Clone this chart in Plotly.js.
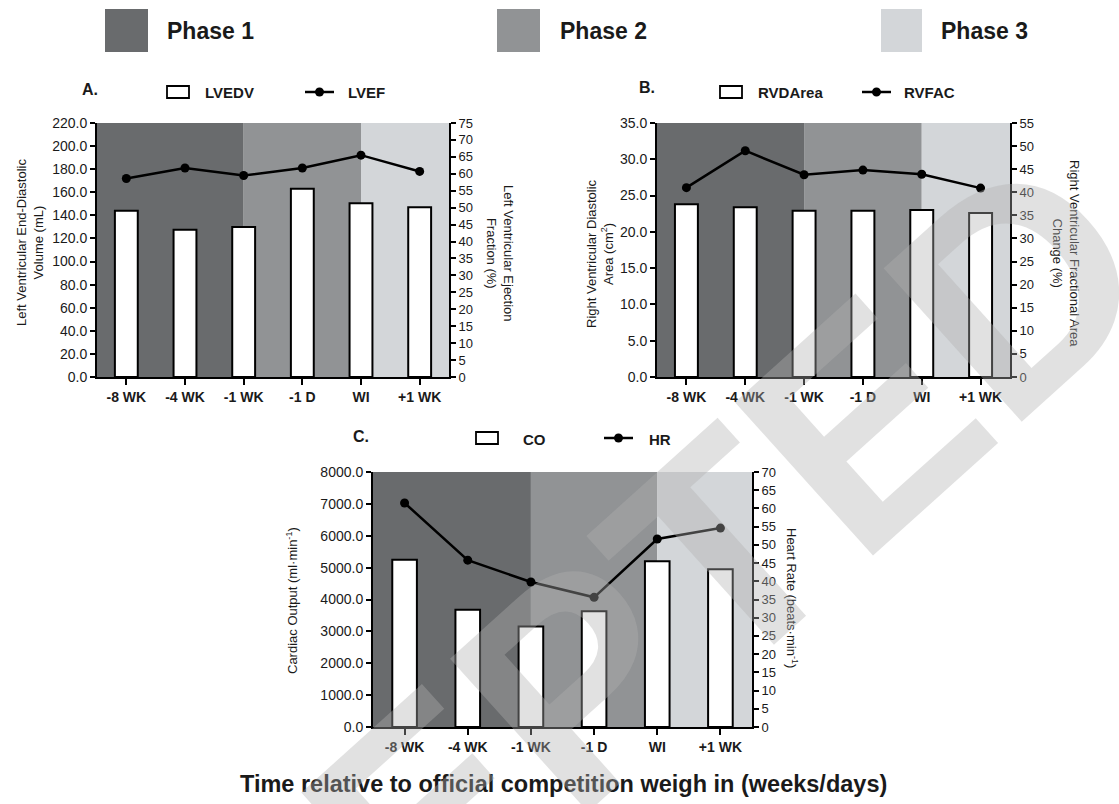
<!DOCTYPE html>
<html>
<head>
<meta charset="utf-8">
<script src="https://cdn.plot.ly/plotly-3.0.1.min.js"></script>
<style>html,body{margin:0;padding:0;background:#fff;}#chart{width:1119px;height:804px;}</style>
</head>
<body>
<div id="chart"></div>
<script>
// ---- data ----
const categories = ['-8 WK', '-4 WK', '-1 WK', '-1 D', 'WI', '+1 WK'];
const lvedv = [144, 127.5, 130, 163, 150.5, 147];
const lvef = [58.6, 61.7, 59.5, 61.7, 65.5, 60.7];
const rvdArea = [23.8, 23.4, 22.9, 22.9, 23.0, 22.6];
const rvfac = [41.0, 49.0, 43.8, 44.8, 43.9, 40.9];
const co = [5250, 3680, 3150, 3630, 5200, 4950];
const hr = [61.5, 45.8, 39.8, 35.6, 51.6, 54.6];
const phaseNames = ['Phase 1', 'Phase 2', 'Phase 3'];
const phaseBounds = [[-0.5, 2], [2, 4], [4, 5.5]];
const phaseColors = ['#696b6d', '#919395', '#d3d6d9'];

// ---- helpers ----
const W = 1119, H = 804;
const px = x => x / W;
const py = y => 1 - y / H;
const FONT = 'Liberation Sans, Arial, sans-serif';
const INK = '#1a1a1a';

function barTrace(y, xa, ya) {
  return {type: 'bar', x: categories, y: y, xaxis: xa, yaxis: ya, width: 0.39,
    marker: {color: '#ffffff', line: {color: '#000', width: 2}}, hoverinfo: 'none'};
}
function lineTrace(y, xa, ya) {
  return {type: 'scatter', mode: 'lines+markers', x: categories, y: y, xaxis: xa, yaxis: ya,
    line: {color: '#000', width: 2.5}, marker: {color: '#000', size: 9}, hoverinfo: 'none'};
}
const traces = [
  barTrace(lvedv, 'x', 'y'), lineTrace(lvef, 'x', 'y2'),
  barTrace(rvdArea, 'x2', 'y3'), lineTrace(rvfac, 'x2', 'y4'),
  barTrace(co, 'x3', 'y5'), lineTrace(hr, 'x3', 'y6')
];

function xAxis(domain, anchor) {
  return {domain: domain, anchor: anchor, type: 'category', categoryarray: categories,
    range: [-0.5, 5.5], showline: true, linecolor: '#000', linewidth: 2, ticks: 'outside',
    ticklen: 6, tickwidth: 2, tickcolor: '#000', showgrid: false, zeroline: false,
    tickfont: {family: FONT, size: 14, color: INK, weight: 'bold'}, fixedrange: true};
}
function yLeft(domain, anchor, max, dtick) {
  return {domain: domain, anchor: anchor, range: [0, max], dtick: dtick, tick0: 0, tickformat: '.1f',
    showline: true, linecolor: '#000', linewidth: 2, ticks: 'outside', ticklen: 5, tickwidth: 2,
    tickcolor: '#000', showgrid: false, zeroline: false,
    tickfont: {family: FONT, size: 14, color: INK}, fixedrange: true};
}
function yRight(overlay, anchor, domain, max) {
  return {overlaying: overlay, side: 'right', anchor: anchor, domain: domain, range: [0, max], dtick: 5, tick0: 0,
    showline: true, linecolor: '#000', linewidth: 2, ticks: 'outside', ticklen: 5, tickwidth: 2,
    tickcolor: '#000', showgrid: false, zeroline: false,
    tickfont: {family: FONT, size: 13, color: INK}, fixedrange: true};
}

const domA = [px(97), px(449)], domB = [px(657), px(1010)], domC = [px(373), px(752)];
const yTop = [py(377), py(123)], yBot = [py(727), py(472)];

const shapes = [];
// phase shading
[['x', 'y'], ['x2', 'y3'], ['x3', 'y5']].forEach(([xa, ya]) => {
  phaseBounds.forEach((b, i) => {
    shapes.push({type: 'rect', xref: xa, yref: ya + ' domain', x0: b[0], x1: b[1], y0: 0, y1: 1,
      fillcolor: phaseColors[i], line: {width: 0}, layer: 'below'});
  });
});
// phase legend
const phaseBoxes = [[105, 148], [497, 540], [881, 922]];
phaseBoxes.forEach((b, i) => {
  shapes.push({type: 'rect', xref: 'paper', yref: 'paper', x0: px(b[0]), x1: px(b[1]), y0: py(52), y1: py(9),
    fillcolor: phaseColors[i], line: {width: 0}});
});
// panel legend symbols
function legendSymbols(boxX, lineX, yc) {
  shapes.push({type: 'rect', xref: 'paper', yref: 'paper', x0: px(boxX), x1: px(boxX + 22),
    y0: py(yc + 6), y1: py(yc - 6), fillcolor: '#fff', line: {color: '#000', width: 1.8}});
  shapes.push({type: 'line', xref: 'paper', yref: 'paper', x0: px(lineX), x1: px(lineX + 29),
    y0: py(yc), y1: py(yc), line: {color: '#000', width: 2.5}});
  shapes.push({type: 'circle', xref: 'paper', yref: 'paper', x0: px(lineX + 10), x1: px(lineX + 19),
    y0: py(yc + 4.5), y1: py(yc - 4.5), fillcolor: '#000', line: {color: '#000', width: 0}});
}
legendSymbols(167, 305, 92);
legendSymbols(720, 862, 92);
legendSymbols(476, 604, 438);

const annotations = [];
function txt(text, x, y, opts) {
  annotations.push(Object.assign({text: text, x: px(x), y: py(y), xref: 'paper', yref: 'paper',
    showarrow: false, xanchor: 'left', yanchor: 'middle',
    font: {family: FONT, size: 15, color: INK, weight: 'bold'}}, opts || {}));
}
// phase labels
const phFont = {family: FONT, size: 23, color: INK, weight: 'bold'};
txt(phaseNames[0], 165, 31, {font: phFont});
txt(phaseNames[1], 558, 31, {font: phFont});
txt(phaseNames[2], 939, 31, {font: phFont});
// panel labels
const pl = {family: FONT, size: 16, color: INK, weight: 'bold'};
txt('A.', 80, 90, {font: pl});
txt('B.', 637, 88, {font: pl});
txt('C.', 351, 436, {font: pl});
// legend labels
txt('LVEDV', 203, 92); txt('LVEF', 346, 92);
txt('RVDArea', 756, 92); txt('RVFAC', 902, 92);
txt('CO', 521, 440); txt('HR', 647, 440);
// axis titles
const tf = {family: FONT, size: 13, color: INK};
function atitle(text, x, y, ang) {
  annotations.push({text: text, x: px(x), y: py(y), xref: 'paper', yref: 'paper', showarrow: false,
    xanchor: 'center', yanchor: 'middle', textangle: ang, font: tf, align: 'center'});
}
atitle('Left Ventricular End-Diastolic<br>Volume (mL)', 30, 243, -90);
atitle('Left Ventricular Ejection<br>Fraction (%)', 500, 253, 90);
atitle('Right Ventricular Diastolic<br>Area (cm<sup>2</sup>)', 600, 254, -90);
atitle('Right Ventricular Fractional Area<br>Change (%)', 1066, 253, 90);
atitle('Cardiac Output (ml·min<sup>-1</sup>)', 292, 601, -90);
atitle('Heart Rate (beats·min<sup>-1</sup>)', 792, 598, 90);
// bottom title
annotations.push({text: 'Time relative to official competition weigh in (weeks/days)', x: px(563), y: py(784),
  xref: 'paper', yref: 'paper', showarrow: false, xanchor: 'center', yanchor: 'middle',
  font: {family: FONT, size: 23.5, color: INK, weight: 'bold'}});
// watermark (as in the reference image)
annotations.push({text: 'ACCEPTED', x: px(485), y: py(765), xref: 'paper', yref: 'paper', showarrow: false,
  xanchor: 'center', yanchor: 'middle', textangle: -42,
  font: {family: FONT, size: 300, color: 'rgba(177,177,177,0.38)', weight: 'bold'}});

const layout = {
  width: W, height: H, margin: {l: 0, r: 0, t: 0, b: 0},
  paper_bgcolor: '#fff', plot_bgcolor: '#fff', showlegend: false, bargap: 0,
  font: {family: FONT, color: INK},
  xaxis: xAxis(domA, 'y'), yaxis: yLeft(yTop, 'x', 220, 20), yaxis2: yRight('y', 'x', yTop, 75),
  xaxis2: xAxis(domB, 'y3'), yaxis3: yLeft(yTop, 'x2', 35, 5), yaxis4: yRight('y3', 'x2', yTop, 55),
  xaxis3: xAxis(domC, 'y5'), yaxis5: yLeft(yBot, 'x3', 8000, 1000), yaxis6: yRight('y5', 'x3', yBot, 70),
  shapes: shapes, annotations: annotations
};

Plotly.newPlot('chart', traces, layout, {displayModeBar: false, staticPlot: true});
</script>
</body>
</html>
